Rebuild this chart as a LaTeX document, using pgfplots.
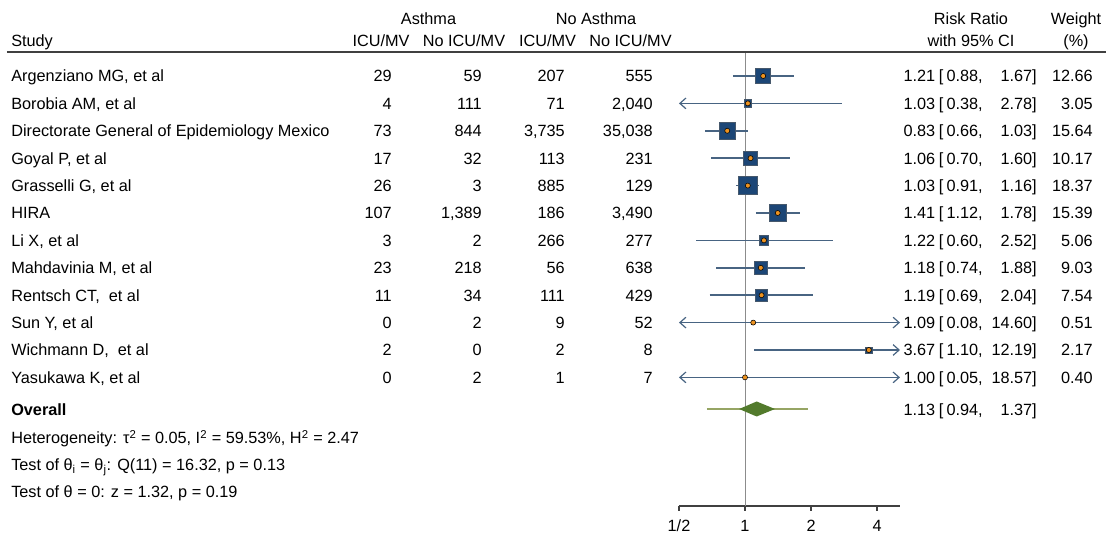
\documentclass[border=0pt]{standalone}
\usepackage{pgfplots}
\pgfplotsset{compat=1.18}
\usepackage{pgfplotstable}
\usepackage{fontspec}
\setmainfont{Liberation Sans}
\usetikzlibrary{arrows.meta}
\definecolor{sqblue}{RGB}{28,70,118}
\definecolor{sqedge}{RGB}{70,88,108}
\definecolor{cicol}{RGB}{72,100,130}
\definecolor{dotor}{RGB}{236,146,32}
\definecolor{diagreen}{RGB}{82,122,44}
\definecolor{ovline}{RGB}{150,165,100}
\definecolor{refgray}{RGB}{140,140,140}
\definecolor{linegray}{RGB}{64,64,64}

\newcommand{\fs}{\fontsize{12.2}{14}\selectfont}
\tikzset{barb/.tip={Straight Barb[length=4.5pt,width=8pt,line width=0.9pt]}}

% y = minus pixel row of the study line
\pgfplotstableread{
y       rr    lo    hi     w
-76.0   1.21  0.88  1.67   12.66
-103.4  1.03  0.38  2.78   3.05
-130.8  0.83  0.66  1.03   15.64
-158.2  1.06  0.70  1.60   10.17
-185.6  1.03  0.91  1.16   18.37
-213.0  1.41  1.12  1.78   15.39
-240.4  1.22  0.60  2.52   5.06
-267.8  1.18  0.74  1.88   9.03
-295.2  1.19  0.69  2.04   7.54
-322.6  1.09  0.08  14.60  0.51
-350.0  3.67  1.10  12.19  2.17
-377.4  1.00  0.05  18.57  0.40
}\studies

\newcommand{\rowA}[6]{%
  \node[anchor=base west] at (11,#1) {#2};
  \node[anchor=base east] at (392,#1) {#3};
  \node[anchor=base east] at (482,#1) {#4};
  \node[anchor=base east] at (565,#1) {#5};
  \node[anchor=base east] at (653,#1) {#6};
}
\newcommand{\rowB}[5]{%
  \node[anchor=base east] at (935.5,#1) {#2};
  \node[anchor=base west] at (938.5,#1) {[};
  \node[anchor=base east] at (983,#1) {#3,};
  \node[anchor=base east] at (1037,#1) {#4]};
  \node[anchor=base east] at (1093,#1) {#5};
}

\begin{document}
\begin{tikzpicture}[font=\fs, inner sep=0pt]
\begin{axis}[
  scale only axis, width=165.75pt, height=340.5pt,
  xmode=log, log basis x=2, xmin=0.5, xmax=5.09, ymin=-506, ymax=-52,
  axis x line*=bottom, axis y line=none,
  xtick={0.5,1,2,4}, xticklabels={1/2,1,2,4},
  ytick=\empty,
  tick align=outside, major tick length=3.75pt,
  x axis line style={draw=linegray, line width=1.1pt},
  xtick style={draw=linegray, line width=0.9pt},
  xticklabel style={font=\fs, inner sep=0pt, anchor=base, yshift=-15.5pt},
  clip=false,
  /pgf/number format/assume math mode=true,
]
\coordinate (O) at (axis cs:0.5,-506);
% reference line at RR = 1
\addplot[refgray, line width=0.75pt] coordinates {(1,-52) (1,-506)};
% confidence intervals
\addplot[cicol, line width=1.2pt] coordinates {(0.88,-76.0) (1.67,-76.0)};
\addplot[cicol, line width=1.2pt, barb-] coordinates {(0.5,-103.4) (2.78,-103.4)};
\addplot[cicol, line width=1.2pt] coordinates {(0.66,-130.8) (1.03,-130.8)};
\addplot[cicol, line width=1.2pt] coordinates {(0.70,-158.2) (1.60,-158.2)};
\addplot[cicol, line width=1.2pt] coordinates {(0.91,-185.6) (1.16,-185.6)};
\addplot[cicol, line width=1.2pt] coordinates {(1.12,-213.0) (1.78,-213.0)};
\addplot[cicol, line width=1.2pt] coordinates {(0.60,-240.4) (2.52,-240.4)};
\addplot[cicol, line width=1.2pt] coordinates {(0.74,-267.8) (1.88,-267.8)};
\addplot[cicol, line width=1.2pt] coordinates {(0.69,-295.2) (2.04,-295.2)};
\addplot[cicol, line width=1.2pt, barb-barb] coordinates {(0.5,-322.6) (5.09,-322.6)};
\addplot[cicol, line width=1.2pt, -barb] coordinates {(1.10,-350.0) (5.09,-350.0)};
\addplot[cicol, line width=1.2pt, barb-barb] coordinates {(0.5,-377.4) (5.09,-377.4)};
% weighted squares
\addplot[scatter, only marks, mark=square*,
  scatter/use mapped color={draw=sqedge, fill=sqblue},
  visualization depends on={1.6*sqrt(\thisrow{w}) \as \msize},
  scatter/@pre marker code/.append style={/tikz/mark size=\msize, /tikz/line width=0.6pt}]
  table[x=rr, y=y] {\studies};
% point estimates
\addplot[only marks, mark=*, mark size=1.9pt, mark options={fill=dotor, draw=none}]
  table[x=rr, y=y] {\studies};
% overall
\addplot[ovline, line width=1.1pt] coordinates {(0.67,-409) (1.94,-409)};
\addplot[fill=diagreen, draw=none] coordinates {(0.94,-409) (1.13,-401.5) (1.37,-409) (1.13,-416.5)} -- cycle;
\end{axis}

\begin{scope}[shift={(O)}]
\begin{scope}[x=0.75pt, y=-0.75pt, shift={(-509.25pt,379.5pt)}]
% header
\node[anchor=base west] at (11,47) {Study};
\node[anchor=base] at (428.5,25) {Asthma};
\node[anchor=base] at (596,25) {No Asthma};
\node[anchor=base] at (381,47) {ICU/MV};
\node[anchor=base] at (464,47) {No ICU/MV};
\node[anchor=base] at (547.5,47) {ICU/MV};
\node[anchor=base] at (630.5,47) {No ICU/MV};
\node[anchor=base] at (971,25) {Risk Ratio};
\node[anchor=base] at (971,47) {with 95\% CI};
\node[anchor=base] at (1076,25) {Weight};
\node[anchor=base] at (1076,47) {(\%)};
\draw[linegray, line width=1.4pt] (7,52) -- (1106,52);
% rows
\rowA{82.0}{Argenziano MG, et al}{29}{59}{207}{555}
\rowA{109.4}{Borobia AM, et al}{4}{111}{71}{2,040}
\rowA{136.8}{Directorate General of Epidemiology Mexico}{73}{844}{3,735}{35,038}
\rowA{164.2}{Goyal P, et al}{17}{32}{113}{231}
\rowA{191.6}{Grasselli G, et al}{26}{3}{885}{129}
\rowA{219.0}{HIRA}{107}{1,389}{186}{3,490}
\rowA{246.4}{Li X, et al}{3}{2}{266}{277}
\rowA{273.8}{Mahdavinia M, et al}{23}{218}{56}{638}
\rowA{301.2}{Rentsch CT,\ \ et al}{11}{34}{111}{429}
\rowA{328.6}{Sun Y, et al}{0}{2}{9}{52}
\rowA{356.0}{Wichmann D,\ \ et al}{2}{0}{2}{8}
\rowA{383.4}{Yasukawa K, et al}{0}{2}{1}{7}
\rowB{82.0}{1.21}{0.88}{1.67}{12.66}
\rowB{109.4}{1.03}{0.38}{2.78}{3.05}
\rowB{136.8}{0.83}{0.66}{1.03}{15.64}
\rowB{164.2}{1.06}{0.70}{1.60}{10.17}
\rowB{191.6}{1.03}{0.91}{1.16}{18.37}
\rowB{219.0}{1.41}{1.12}{1.78}{15.39}
\rowB{246.4}{1.22}{0.60}{2.52}{5.06}
\rowB{273.8}{1.18}{0.74}{1.88}{9.03}
\rowB{301.2}{1.19}{0.69}{2.04}{7.54}
\rowB{328.6}{1.09}{0.08}{14.60}{0.51}
\rowB{356.0}{3.67}{1.10}{12.19}{2.17}
\rowB{383.4}{1.00}{0.05}{18.57}{0.40}
% overall
\node[anchor=base west] at (11,416) {\bfseries Overall};
\node[anchor=base east] at (935.5,416) {1.13};
\node[anchor=base west] at (938.5,416) {[};
\node[anchor=base east] at (983,416) {0.94,};
\node[anchor=base east] at (1037,416) {1.37]};
\node[anchor=base west] at (11,444) {Heterogeneity: τ\textsuperscript{2} = 0.05, I\textsuperscript{2} = 59.53\%, H\textsuperscript{2} = 2.47};
\node[anchor=base west] at (11,471) {Test of θ\textsubscript{i} = θ\textsubscript{j}: Q(11) = 16.32, p = 0.13};
\node[anchor=base west] at (11,498) {Test of θ = 0: z = 1.32, p = 0.19};
\end{scope}
\end{scope}
\pgfresetboundingbox
\path[use as bounding box] (O) ++(-509.25pt,-21pt) rectangle ++(829.5pt,400.5pt);
\end{tikzpicture}
\end{document}
